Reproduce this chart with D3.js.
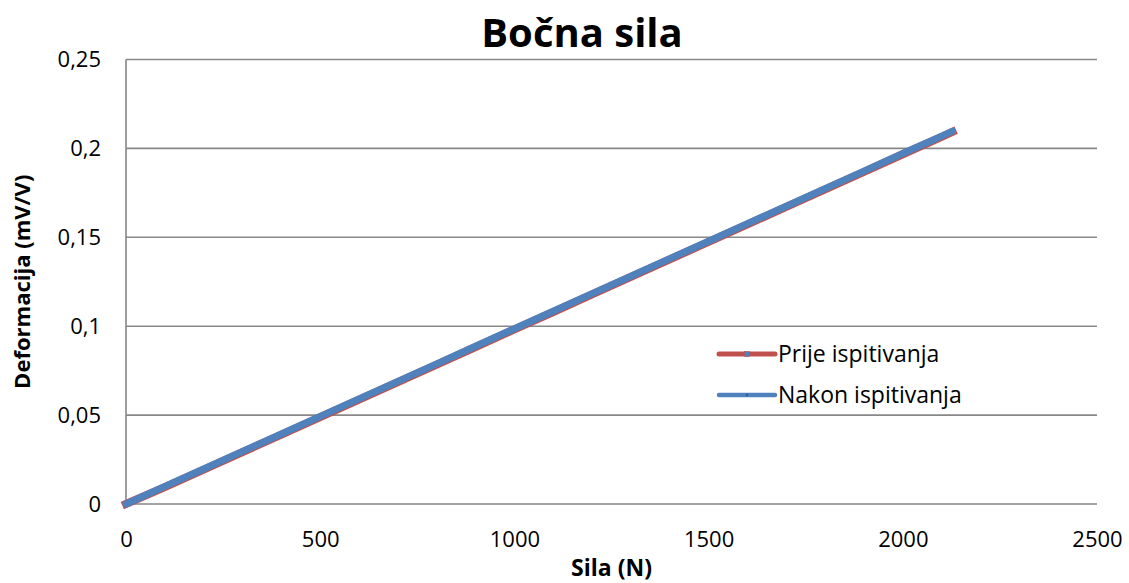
<!DOCTYPE html>
<html>
<head>
<meta charset="utf-8">
<script src="https://cdn.jsdelivr.net/npm/d3@7"></script>
<style>
  html, body { margin: 0; padding: 0; background: #fff; }
  svg { display: block; font-family: "Open Sans", sans-serif; }
</style>
</head>
<body>
<svg id="chart" width="1129" height="583"></svg>
<script>
// Lateral force calibration: strain output vs. applied force
const force = [0, 100, 200, 300, 400, 500, 600, 700, 800, 900, 1000, 1100, 1200, 1300, 1400, 1500, 1600, 1700, 1800, 1900, 2000, 2100, 2128];
const beforeTest = [0, 0.0095, 0.0193, 0.0292, 0.0390, 0.0489, 0.0587, 0.0686, 0.0784, 0.0883, 0.0982, 0.1080, 0.1179, 0.1277, 0.1376, 0.1474, 0.1573, 0.1671, 0.1770, 0.1868, 0.1967, 0.2065, 0.2093];
const afterTest  = [0, 0.0099, 0.0197, 0.0296, 0.0394, 0.0493, 0.0591, 0.0690, 0.0788, 0.0887, 0.0986, 0.1084, 0.1183, 0.1281, 0.1380, 0.1478, 0.1577, 0.1675, 0.1774, 0.1872, 0.1971, 0.2069, 0.2097];
const xTicks = [0, 500, 1000, 1500, 2000, 2500];
const yTicks = [0, 0.05, 0.1, 0.15, 0.2, 0.25];
const seriesNames = ["Prije ispitivanja", "Nakon ispitivanja"];
const seriesColors = ["#C0504D", "#4F81BD"];

const svg = d3.select("#chart");
const m = { left: 126, right: 1097, top: 59.5, bottom: 504 };

const x = d3.scaleLinear().domain([0, 2500]).range([m.left, m.right]);
const y = d3.scaleLinear().domain([0, 0.25]).range([m.bottom, m.top]);
const fmt = d => d3.format("")(d).replace(".", ",");

// horizontal gridlines
svg.append("g").selectAll("line").data(yTicks.filter(d => d > 0)).join("line")
  .attr("x1", m.left).attr("x2", m.right)
  .attr("y1", d => y(d)).attr("y2", d => y(d))
  .attr("stroke", "#888").attr("stroke-width", 1.6);

// axes
const xAxis = svg.append("g").attr("transform", `translate(0,${m.bottom})`)
  .call(d3.axisBottom(x).tickValues(xTicks).tickSize(0).tickPadding(27).tickFormat(d => d));
const yAxis = svg.append("g").attr("transform", `translate(${m.left},0)`)
  .call(d3.axisLeft(y).tickValues(yTicks).tickSize(0).tickPadding(25).tickFormat(fmt));
[xAxis, yAxis].forEach(a => {
  a.select(".domain").attr("stroke", "#868686").attr("stroke-width", 1.6);
  a.selectAll("text").attr("font-family", "'Open Sans', sans-serif")
    .attr("font-size", 22).attr("fill", "#000");
});
xAxis.select(".domain").attr("d", `M${m.left},0H${m.right}`);
yAxis.select(".domain").attr("d", `M0,${m.bottom}V${m.top}`);

// series lines
const line = d3.line().x(d => x(d[0])).y(d => y(d[1]));
const series = [beforeTest, afterTest].map(vals => force.map((f, i) => [f, vals[i]]));
svg.append("path").datum(series[0]).attr("d", line)
  .attr("fill", "none").attr("stroke", seriesColors[0]).attr("stroke-width", 8)
  .attr("stroke-linecap", "square");
svg.append("path").datum(series[1]).attr("d", line)
  .attr("fill", "none").attr("stroke", seriesColors[1]).attr("stroke-width", 7)
  .attr("stroke-linecap", "round");

// title and axis titles
svg.append("text").attr("x", 582).attr("y", 47).attr("text-anchor", "middle")
  .attr("font-size", 40).attr("font-weight", "bold").text("Bočna sila");
svg.append("text").attr("x", (m.left + m.right) / 2).attr("y", 576).attr("text-anchor", "middle")
  .attr("font-size", 23).attr("font-weight", "bold").text("Sila (N)");
svg.append("text").attr("transform", `translate(30,${(m.top + m.bottom) / 2}) rotate(-90)`)
  .attr("text-anchor", "middle").attr("font-size", 22).attr("font-weight", "bold")
  .text("Deformacija (mV/V)");

// legend
const legend = svg.append("g").attr("transform", "translate(719,354)");
seriesNames.forEach((name, i) => {
  const g = legend.append("g").attr("transform", `translate(0,${i * 41})`);
  g.append("line").attr("x1", 0).attr("x2", 56).attr("stroke", seriesColors[i])
    .attr("stroke-width", i === 0 ? 5 : 4.5).attr("stroke-linecap", "round");
  if (i === 0) {
    g.append("rect").attr("x", 25.5).attr("y", -2.5).attr("width", 5).attr("height", 5)
      .attr("fill", "#4F81BD").attr("stroke", "#C0504D").attr("stroke-width", 0.5);
  } else {
    g.append("circle").attr("cx", 28).attr("cy", 0).attr("r", 1.2).attr("fill", "#2a5d9f");
  }
  g.append("text").attr("x", 59).attr("y", 0).attr("dy", "0.35em")
    .attr("font-size", 23).text(name);
});
</script>
</body>
</html>
